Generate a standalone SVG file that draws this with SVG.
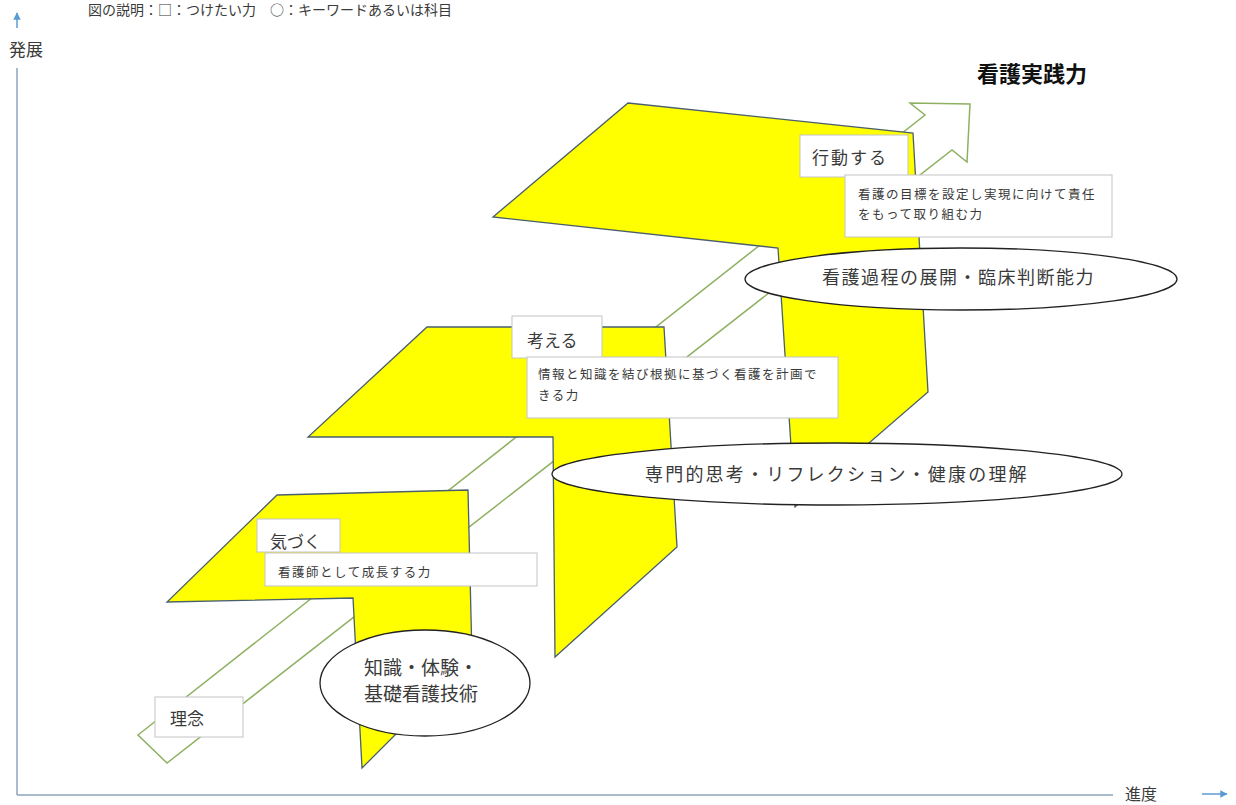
<svg xmlns="http://www.w3.org/2000/svg" width="1236" height="805" viewBox="0 0 1236 805">
<style>
text{font-family:"Noto Sans CJK JP","Noto Sans CJK SC",sans-serif;fill:#3a3a3a}
.ylw{fill:#ffff00;stroke:#4a5f6e;stroke-width:1.3;stroke-linejoin:miter}
.box{fill:#fff;stroke:#c4c4c4;stroke-width:1}
.ell{fill:#fff;stroke:#222;stroke-width:1.3}
.ax{stroke:#8ca3bd;stroke-width:1.5;fill:none}
.big{font-size:17px}
.sm{font-size:12.5px;letter-spacing:1.5px}
.el{font-size:18px}
</style>
<defs>
<marker id="ah" viewBox="0 0 10 10" refX="9" refY="5" markerWidth="5" markerHeight="5" orient="auto">
<path d="M0,0 L10,5 L0,10 z" fill="#5b9bd5"/>
</marker>
</defs>
<rect width="1236" height="805" fill="#fff"/>
<text x="88" y="15" style="font-size:14px">図の説明：□：つけたい力　○：キーワードあるいは科目</text>
<g id="connectors">
<line class="ax" x1="17" y1="68" x2="17" y2="795"/>
<line class="ax" x1="17" y1="795" x2="1113" y2="795"/>
<line x1="17" y1="28" x2="17" y2="13" stroke="#5b9bd5" stroke-width="1.5" marker-end="url(#ah)"/>
<line x1="1202" y1="794" x2="1227" y2="794" stroke="#5b9bd5" stroke-width="1.5" marker-end="url(#ah)"/>
</g>
<text x="9" y="56" class="big">発展</text>
<text x="1125" y="800" style="font-size:16px">進度</text>
<g id="growth-arrow">
<polygon points="138,735 925,115 910,103 970,104 967,162 952,150 167,763" fill="#fff" stroke="#8fb060" stroke-width="1.5"/>
</g>
<g id="step1">
<polygon class="ylw" points="277,495 468,490 472,658 362,768 353,598 167,602"/>
</g>
<g id="step2">
<polygon class="ylw" points="427,327 664,327 677,547 555,657 553,437 308,437"/>
</g>
<g id="step3">
<polygon class="ylw" points="628,103 913,133 928,392 795,507 778,248 493,217"/>
</g>
<g id="title">
<text x="977" y="82" style="font-size:22px;font-weight:bold;fill:#111">看護実践力</text>
</g>
<g id="rinen">
<rect class="box" x="155" y="697" width="88" height="40"/>
<text x="170" y="725" class="big">理念</text>
</g>
<g id="kizuku">
<rect class="box" x="257" y="519" width="83" height="33"/>
<text x="270" y="548" class="big">気づく</text>
</g>
<g id="kizuku-desc">
<rect class="box" x="265" y="553" width="272" height="33"/>
<text x="278" y="577" class="sm">看護師として成長する力</text>
</g>
<g id="kangaeru">
<rect class="box" x="512" y="316" width="90" height="42"/>
<text x="527" y="347" class="big">考える</text>
</g>
<g id="kangaeru-desc">
<rect class="box" x="527" y="357" width="311" height="61"/>
<text x="538" y="379" class="sm">情報と知識を結び根拠に基づく看護を計画で</text>
<text x="538" y="400" class="sm">きる力</text>
</g>
<g id="koudou">
<rect class="box" x="800" y="135" width="108" height="42"/>
<text x="812" y="164" class="big" style="letter-spacing:2px">行動する</text>
</g>
<g id="koudou-desc">
<rect class="box" x="845" y="175" width="267" height="62"/>
<text x="858" y="199" class="sm">看護の目標を設定し実現に向けて責任</text>
<text x="858" y="219" class="sm">をもって取り組む力</text>
</g>
<g id="ellipse-top">
<ellipse class="ell" cx="961" cy="279" rx="216" ry="31"/>
<text x="822" y="284" class="el" style="letter-spacing:1.5px">看護過程の展開・臨床判断能力</text>
</g>
<g id="ellipse-mid">
<ellipse class="ell" cx="837" cy="474" rx="285" ry="31"/>
<text x="645" y="481" class="el" style="letter-spacing:2.2px">専門的思考・リフレクション・健康の理解</text>
</g>
<g id="ellipse-bottom">
<ellipse class="ell" cx="425" cy="683" rx="105" ry="53"/>
<text x="364" y="675" style="font-size:19px">知識・体験・</text>
<text x="364" y="701" style="font-size:19px">基礎看護技術</text>
</g>
</svg>
